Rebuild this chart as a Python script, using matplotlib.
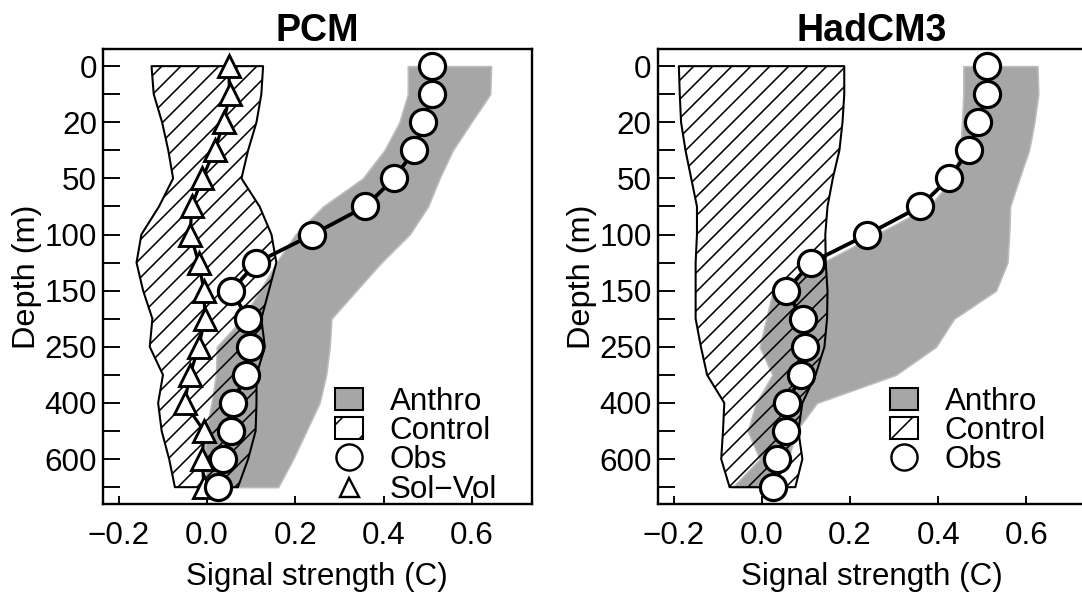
import numpy as np
import matplotlib
matplotlib.use("Agg")
import matplotlib.pyplot as plt
from matplotlib.patches import Patch
from matplotlib.lines import Line2D

plt.rcParams['font.family'] = ['Liberation Sans', 'DejaVu Sans']
plt.rcParams['hatch.linewidth'] = 1.0

# depth levels (m), plotted at equal spacing
levels = [0, 10, 20, 30, 50, 75, 100, 125, 150, 200, 250, 300, 400, 500, 600, 700]

# observed signal strength (same in both panels)
obs = [0.51, 0.51, 0.49, 0.47, 0.424, 0.359, 0.239, 0.112, 0.055, 0.093, 0.097,
       0.089, 0.058, 0.055, 0.035, 0.025]

# PCM
pcm_solvol = [0.049, 0.051, 0.038, 0.017, -0.011, -0.035, -0.038, -0.019, -0.007,
              -0.005, -0.019, -0.039, -0.051, -0.007, -0.011, -0.007]
pcm_ctrl_lo = [-0.126, -0.121, -0.102, -0.088, -0.077, -0.109, -0.149, -0.160, -0.145,
               -0.124, -0.130, -0.100, -0.111, -0.103, -0.086, -0.073]
pcm_ctrl_hi = [0.127, 0.123, 0.112, 0.093, 0.078, 0.119, 0.146, 0.157, 0.140,
               0.123, 0.131, 0.112, 0.112, 0.110, 0.093, 0.070]
pcm_anth_lo = [0.455, 0.455, 0.436, 0.402, 0.353, 0.263, 0.200, 0.157, 0.120,
               0.080, 0.022, 0.020, 0.010, -0.003, -0.005, -0.001]
pcm_anth_hi = [0.644, 0.642, 0.599, 0.557, 0.527, 0.501, 0.459, 0.395, 0.338,
               0.282, 0.278, 0.270, 0.255, 0.225, 0.195, 0.161]

# HadCM3
had_ctrl_lo = [-0.188, -0.186, -0.183, -0.173, -0.160, -0.147, -0.147, -0.150, -0.150,
               -0.150, -0.138, -0.124, -0.085, -0.088, -0.092, -0.073]
had_ctrl_hi = [0.187, 0.187, 0.183, 0.176, 0.161, 0.149, 0.144, 0.145, 0.149,
               0.148, 0.142, 0.122, 0.092, 0.083, 0.092, 0.076]
had_anth_lo = [0.457, 0.457, 0.454, 0.450, 0.433, 0.380, 0.259, 0.138, 0.025,
               0.010, -0.005, 0.024, -0.013, -0.032, -0.005, -0.066]
had_anth_hi = [0.625, 0.627, 0.618, 0.606, 0.584, 0.563, 0.561, 0.557, 0.531,
               0.436, 0.395, 0.304, 0.125, 0.078, 0.060, 0.020]

xticks = [-0.2, 0.0, 0.2, 0.4, 0.6]
xticklabels = ['\u22120.2', '0.0', '0.2', '0.4', '0.6']

DPI = 114
fig = plt.figure(figsize=(1082 / DPI, 597 / DPI), dpi=DPI)
W, H = 1082, 597
ax1 = fig.add_axes([103 / W, 93 / H, 428.7 / W, 454.7 / H])
ax2 = fig.add_axes([657.7 / W, 93 / H, 428.7 / W, 454.7 / H])

y = np.arange(len(levels))
gray = '#a6a6a6'
fs = 19.8


def panel(ax, title, lo, hi, clo, chi, solvol=None):
    ax.fill_betweenx(y, lo, hi, facecolor=gray, edgecolor='#bdbdbd', lw=1.0, zorder=1)
    ax.fill_betweenx(y, clo, chi, facecolor='none', edgecolor='black', hatch='//',
                     lw=1.3, zorder=2)
    if solvol is not None:
        ax.plot(solvol, y, color='black', lw=2.0, marker='^', ms=14, mfc='white',
                mec='black', mew=1.8, zorder=3)
    ax.plot(obs, y, color='black', lw=2.4, marker='o', ms=16.5, mfc='white',
            mec='black', mew=2.0, zorder=4)
    ax.set_xlim(-0.236, 0.736)
    ax.set_ylim(15.6, -0.6)
    ax.set_yticks(y[::2])
    ax.set_yticklabels([str(v) for v in levels[::2]])
    ax.set_yticks(y[1::2], minor=True)
    ax.set_xticks(xticks)
    ax.set_xticklabels(xticklabels)
    ax.tick_params(axis='y', which='both', direction='in', length=10.7, width=1.2,
                   pad=3.8, labelsize=fs, right=False)
    ax.tick_params(axis='x', direction='in', length=5, width=1.2, pad=11,
                   labelsize=fs, top=False)
    for s in ax.spines.values():
        s.set_linewidth(1.5)
    ax.set_title(title, fontsize=23.8, fontweight='bold', pad=4.8)
    ax.set_xlabel('Signal strength (C)', fontsize=fs, labelpad=7)
    ax.set_ylabel('Depth (m)', fontsize=20.5)
    ax.yaxis.set_label_coords(-0.142, 0.5)

    handles = [Patch(facecolor=gray, edgecolor='black', lw=1.3),
               Patch(facecolor='white', edgecolor='black', hatch='/', lw=1.3),
               Line2D([], [], ls='none', marker='o', ms=16.5, mfc='white',
                      mec='black', mew=1.5)]
    labels = ['Anthro', 'Control', 'Obs']
    if solvol is not None:
        handles.append(Line2D([], [], ls='none', marker='^', ms=12, mfc='white',
                              mec='black', mew=1.5))
        labels.append('Sol\u2212Vol')
    ax.legend(handles, labels, loc='upper left', bbox_to_anchor=(0.541, 0.258),
              frameon=False, fontsize=fs, handlelength=0.9, handleheight=0.7,
              handletextpad=0.85, labelspacing=-0.02, borderpad=0, borderaxespad=0)


panel(ax1, 'PCM', pcm_anth_lo, pcm_anth_hi, pcm_ctrl_lo, pcm_ctrl_hi, pcm_solvol)
panel(ax2, 'HadCM3', had_anth_lo, had_anth_hi, had_ctrl_lo, had_ctrl_hi)
# right panel runs off the page edge in the original
ax2.spines['right'].set_visible(False)

fig.savefig('out.png', dpi=DPI)
